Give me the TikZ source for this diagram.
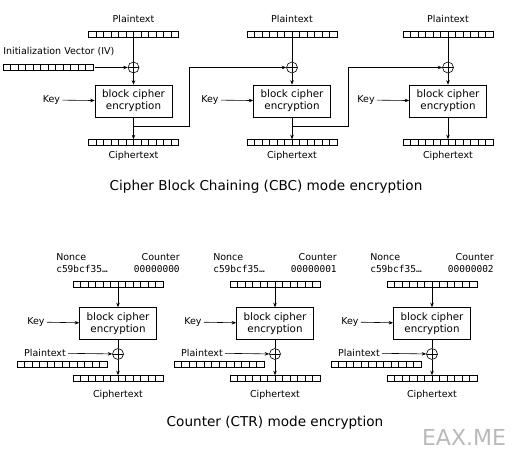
\documentclass[tikz,border=0pt]{standalone}
\usepackage{fontspec}
\setmainfont{DejaVu Sans}
\setmonofont{DejaVu Sans Mono}
\usetikzlibrary{arrows.meta, positioning, calc}

\tikzset{
  reg/.style={draw, inner sep=0pt, minimum width=90pt, minimum height=6pt,
    path picture={\foreach \k in {1,...,11}
      \draw ([xshift=\k*7.5pt]path picture bounding box.south west) -- ([xshift=\k*7.5pt]path picture bounding box.north west);}},
  xorop/.style={draw, circle, inner sep=0pt, minimum size=11pt,
    path picture={\draw (path picture bounding box.north) -- (path picture bounding box.south)
      (path picture bounding box.west) -- (path picture bounding box.east);}},
  cipherbox/.style={draw, minimum width=77pt, minimum height=32pt, align=center, inner sep=1pt,
    font=\fontsize{10.3}{12}\selectfont},
  lbl/.style={inner sep=0pt, font=\fontsize{9.5}{11}\selectfont},
  title/.style={font=\fontsize{13.6}{16}\selectfont},
  flow/.style={-{Stealth[length=4.5pt,width=3.5pt]}},
}

\begin{document}
\begin{tikzpicture}[x=1pt, y=-1pt, line width=0.6pt]
    \useasboundingbox (0,0) rectangle (512,450);

    % CBC
    \foreach \cx/\i in {133.5/1, 292/2, 448/3} {
        \node[lbl] (pl\i) at (\cx,19) {Plaintext};
        \node[reg] (p\i) at (\cx,34.5) {};
        \node[xorop] (x\i) at (\cx,67.5) {};
        \node[cipherbox] (e\i) at (\cx,101) {block cipher\\encryption};
        \node[lbl] (k\i) at (\cx-82,100) {Key};
        \node[reg] (c\i) at (\cx,142.5) {};
        \node[lbl] (cl\i) at (\cx,156) {Ciphertext};
        \coordinate (b\i) at (\cx,126.5);
        \draw (p\i) -- (x\i);
        \draw[flow] (x\i) -- (e\i);
        \draw[flow, shorten <=2pt] (k\i) -- (e\i);
        \draw[flow] (e\i) -- (c\i);
    }
    \node[lbl, anchor=west] (ivl) at (3,52) {Initialization Vector (IV)};
    \node[reg] (iv) at (48,67.5) {};
    \draw[flow, shorten <=2pt] (iv) -- (x1);
    \draw[flow] (b1) -- ++(56,0) |- (x2);
    \draw[flow] (b2) -- ++(56,0) |- (x3);
    \node[title] (cbc) at (266,187) {Cipher Block Chaining (CBC) mode encryption};

    % CTR
    \foreach \cx/\i/\n in {118/1/0, 275/2/1, 432/3/2} {
        \node[lbl, anchor=west] (nl\i) at (\cx-62,257) {Nonce};
        \node[lbl, anchor=west, font=\ttfamily\fontsize{9.5}{11}\selectfont] (nv\i) at (\cx-62,269) {c59bcf35…};
        \node[lbl, anchor=east] (ql\i) at (\cx+62,257) {Counter};
        \node[lbl, anchor=east, font=\ttfamily\fontsize{9.5}{11}\selectfont] (qv\i) at (\cx+62,269) {0000000\n};
        \node[reg] (r\i) at (\cx,284.5) {};
        \node[cipherbox] (f\i) at (\cx,323.5) {block cipher\\encryption};
        \node[lbl] (fk\i) at (\cx-82,322) {Key};
        \node[xorop] (y\i) at (\cx,354) {};
        \node[lbl] (tl\i) at (\cx-73,353) {Plaintext};
        \node[reg] (t\i) at (\cx-56,364.5) {};
        \node[reg] (s\i) at (\cx,378.5) {};
        \node[lbl] (sl\i) at (\cx,395) {Ciphertext};
        \draw[flow] (r\i) -- (f\i);
        \draw[flow, shorten <=2pt] (fk\i) -- (f\i);
        \draw (f\i) -- (y\i);
        \draw[flow, shorten <=2pt] (tl\i) -- (y\i);
        \draw[flow] (y\i) -- (s\i);
    }
    \node[title] (ctr) at (275,423) {Counter (CTR) mode encryption};

    \node[text=gray!55, font=\fontsize{22}{24}\selectfont] (wm) at (464,437) {EAX.ME};
\end{tikzpicture}
\end{document}
